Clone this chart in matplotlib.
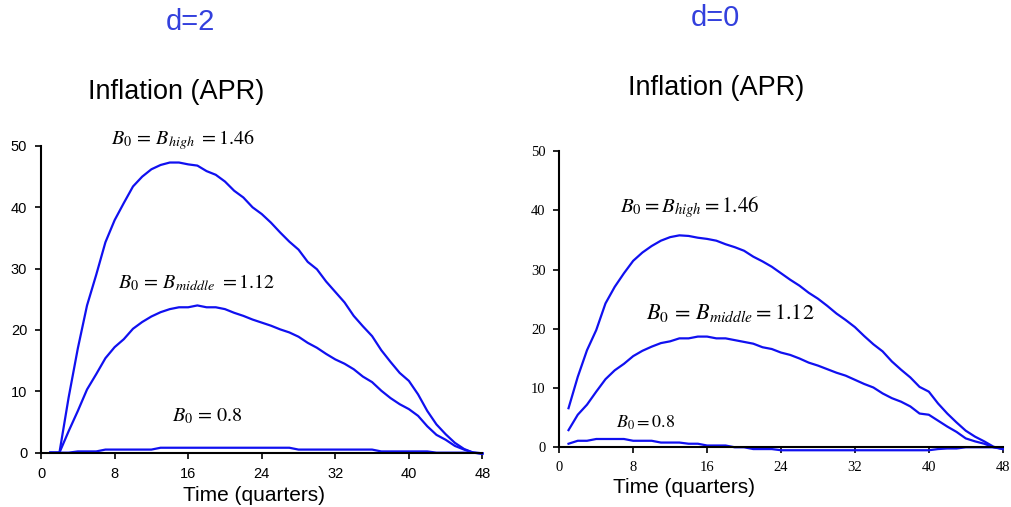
import matplotlib
matplotlib.use("Agg")
import matplotlib.pyplot as plt
import numpy as np

plt.rcParams['mathtext.fontset'] = 'stix'

# quarters 1..48
quarters = np.arange(1, 49)

# d=2 panel
d2_high = [0, 0, 9, 17, 24, 29, 34.3, 37.9, 40.7, 43.4, 45.0, 46.2, 46.9, 47.3, 47.3, 47.0,
           46.8, 45.9, 45.3, 44.2, 42.7, 41.6, 40.0, 38.9, 37.5, 35.9, 34.4, 33.1, 31.1, 29.9,
           27.9, 26.2, 24.5, 22.3, 20.6, 19.0, 16.7, 14.8, 13.0, 11.7, 9.5, 6.8, 4.6, 3.0,
           1.6, 0.6, 0.0, -0.2]
d2_middle = [0, 0, 3.5, 6.8, 10.3, 12.8, 15.4, 17.2, 18.5, 20.2, 21.3, 22.2, 22.9, 23.4, 23.7,
             23.7, 24.0, 23.7, 23.7, 23.4, 22.8, 22.3, 21.7, 21.2, 20.7, 20.1, 19.6, 18.9, 17.9,
             17.1, 16.1, 15.2, 14.5, 13.6, 12.4, 11.5, 10.1, 8.9, 7.9, 7.1, 6.0, 4.3, 2.9, 2.1,
             1.1, 0.5, 0.0, -0.1]
d2_low = [0, 0, 0, 0.2, 0.2, 0.2, 0.5, 0.5, 0.5, 0.5, 0.5, 0.5, 0.8, 0.8, 0.8, 0.8, 0.8, 0.8,
          0.8, 0.8, 0.8, 0.8, 0.8, 0.8, 0.8, 0.8, 0.8, 0.5, 0.5, 0.5, 0.5, 0.5, 0.5, 0.5, 0.5,
          0.5, 0.2, 0.2, 0.2, 0.2, 0.2, 0.2, 0, 0, 0, 0, 0, -0.1]

# d=0 panel
d0_high = [6.6, 11.9, 16.4, 19.8, 24.3, 27.1, 29.4, 31.5, 32.9, 34.0, 34.9, 35.5, 35.8, 35.7,
           35.4, 35.2, 34.9, 34.3, 33.8, 33.2, 32.2, 31.4, 30.5, 29.4, 28.3, 27.3, 26.1, 25.1,
           23.9, 22.6, 21.5, 20.3, 18.8, 17.4, 16.2, 14.5, 13.1, 11.8, 10.2, 9.4, 7.4, 5.7,
           4.2, 2.8, 1.8, 1.0, 0.1, -0.3]
d0_middle = [2.9, 5.5, 7.2, 9.4, 11.5, 13.0, 14.1, 15.4, 16.3, 17.0, 17.6, 17.9, 18.4, 18.4,
             18.7, 18.7, 18.4, 18.4, 18.1, 17.8, 17.5, 16.9, 16.6, 16.0, 15.6, 15.0, 14.3, 13.8,
             13.2, 12.6, 12.1, 11.4, 10.7, 10.1, 9.1, 8.3, 7.7, 6.9, 5.7, 5.5, 4.5, 3.5, 2.6,
             1.5, 1.0, 0.6, 0.0, -0.3]
d0_low = [0.6, 1.1, 1.1, 1.4, 1.4, 1.4, 1.4, 1.1, 1.1, 1.1, 0.8, 0.8, 0.8, 0.6, 0.6, 0.3, 0.3,
          0.3, 0, 0, -0.3, -0.3, -0.3, -0.5, -0.5, -0.5, -0.5, -0.5, -0.5, -0.5, -0.5, -0.5,
          -0.5, -0.5, -0.5, -0.5, -0.5, -0.5, -0.5, -0.5, -0.3, -0.2, -0.2, 0, 0, 0, 0, -0.1]

xticks = [0, 8, 16, 24, 32, 40, 48]
yticks = [0, 10, 20, 30, 40, 50]

line_color = '#1010f0'
title_color = '#3340dd'

fig = plt.figure(figsize=(10.11, 5.07), dpi=100)
ax1 = fig.add_axes([0.0406, 0.0951, 0.4366, 0.617])
ax2 = fig.add_axes([0.5532, 0.1061, 0.4386, 0.5955])


def style_axes(ax, tick_font):
    ax.set_xlim(0, 48)
    ax.set_ylim(-1, 50)
    ax.spines['top'].set_visible(False)
    ax.spines['right'].set_visible(False)
    ax.spines['bottom'].set_position(('data', 0))
    ax.spines['left'].set_bounds(0, 50)
    ax.spines['left'].set_linewidth(1.5)
    ax.spines['bottom'].set_linewidth(1.5)
    ax.set_xticks(xticks)
    ax.set_yticks(yticks)
    ax.tick_params(direction='out', length=4, width=1.2, pad=6)
    for lab in ax.get_xticklabels() + ax.get_yticklabels():
        lab.set_fontfamily(tick_font)
        lab.set_fontsize(10.5)
    ax.patch.set_visible(False)


for ax, series in [(ax1, [d2_high, d2_middle, d2_low]), (ax2, [d0_high, d0_middle, d0_low])]:
    for s in series:
        ax.plot(quarters, s, color=line_color, lw=1.6, clip_on=False)

style_axes(ax1, 'Liberation Sans')
style_axes(ax2, 'Liberation Serif')

# x labels
ax1.set_xlabel('Time (quarters)', fontsize=15, family='Liberation Sans')
ax1.xaxis.set_label_coords(0.482, -0.116)
ax1.xaxis.label.set_va('center')
ax2.set_xlabel('Time (quarters)', fontsize=15, family='Liberation Sans')
ax2.xaxis.set_label_coords(0.281, -0.113)
ax2.xaxis.label.set_va('center')

# curve labels
ax1.text(15.4, 50.9, r'$B_0\,=\,B_{high}\,\,=1.46$', fontsize=14.5, ha='center', va='center', clip_on=False)
ax1.text(16.9, 27.7, r'$B_0\,=\,B_{middle}\,\,=1.12$', fontsize=14.5, ha='center', va='center')
ax1.text(18.1, 6.0, r'$B_0\,=\,0.8$', fontsize=14.5, ha='center', va='center')

ax2.text(14.1, 40.6, r'$B_0{=}B_{high}{=}1.46$', fontsize=15, ha='center', va='center')
ax2.text(18.5, 22.7, r'$B_0\,=\,B_{middle}{=}1.12$', fontsize=16, ha='center', va='center')
ax2.text(9.4, 4.1, r'$B_0{=}0.8$', fontsize=13, ha='center', va='center')

# titles
fig.text(0.188, 0.957, 'd=2', color=title_color, fontsize=21, family='Liberation Sans',
         ha='center', va='center')
fig.text(0.708, 0.964, 'd=0', color=title_color, fontsize=21, family='Liberation Sans',
         ha='center', va='center')
fig.text(0.174, 0.819, 'Inflation (APR)', fontsize=19.5, family='Liberation Sans',
         ha='center', va='center')
fig.text(0.708, 0.826, 'Inflation (APR)', fontsize=19.5, family='Liberation Sans',
         ha='center', va='center')

fig.savefig('out.png', dpi=100)
